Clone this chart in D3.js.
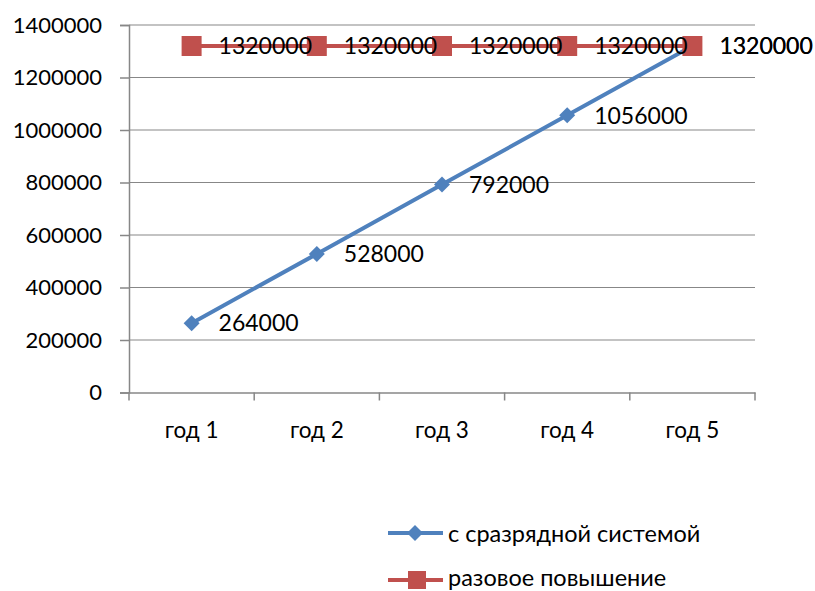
<!DOCTYPE html>
<html><head><meta charset="utf-8">
<script src="https://cdn.jsdelivr.net/npm/d3@7"></script>
<style>body{margin:0;background:#fff}svg{display:block}text{font-family:Lato,"Open Sans",sans-serif;fill:#000}</style>
</head><body><svg id="c" width="815" height="591"></svg>
<script>
const categories = ["год 1","год 2","год 3","год 4","год 5"];
const seriesNames = ["с сразрядной системой","разовое повышение"];
const blueValues = [264000,528000,792000,1056000,1320000];
const redValues = [1320000,1320000,1320000,1320000,1320000];
const yTicks = [0,200000,400000,600000,800000,1000000,1200000,1400000];

const svg = d3.select("#c");
const L=129, R=755, T=25, B=392.5;
const x = d3.scaleBand().domain(categories).range([L,R]);
const y = d3.scaleLinear().domain([0,1400000]).range([B,T]);
const fs = 22, grid="#878787";

svg.append("g").selectAll("line").data(yTicks.filter(d=>d>0)).join("line")
 .attr("x1",L).attr("x2",R).attr("y1",d=>y(d)).attr("y2",d=>y(d))
 .attr("stroke",grid).attr("stroke-width",1);

const ya = svg.append("g").attr("transform",`translate(${L},0)`)
 .call(d3.axisLeft(y).tickValues(yTicks).tickFormat(d3.format("d")).tickSize(9).tickPadding(18));
ya.select(".domain").attr("stroke",grid).attr("stroke-width",1.5);
ya.selectAll(".tick line").attr("stroke",grid).attr("stroke-width",1.5);
ya.selectAll("text").attr("font-size",fs).attr("font-family","Lato").attr("fill","#000");

const xa = svg.append("g").attr("transform",`translate(0,${B})`)
 .call(d3.axisBottom(x).tickSize(0).tickPadding(30));
xa.select(".domain").attr("stroke",grid).attr("stroke-width",1.5);
xa.selectAll("text").attr("font-size",fs+0.5).attr("font-family","Lato").attr("fill","#000");
svg.append("g").selectAll("line").data(d3.range(categories.length+1)).join("line")
 .attr("x1",i=>L+i*x.step()).attr("x2",i=>L+i*x.step()).attr("y1",B).attr("y2",B+8)
 .attr("stroke",grid).attr("stroke-width",1.5);

const cx = c=>x(c)+x.bandwidth()/2;
const line = d3.line();
const blue="#4F81BD", red="#C0504D";

function drawSeries(vals,color,marker){
 const pts = vals.map((v,i)=>[cx(categories[i]),y(v)]);
 svg.append("path").attr("d",line(pts)).attr("fill","none").attr("stroke",color).attr("stroke-width",4).attr("stroke-linejoin","round");
 pts.forEach(p=>marker(p[0],p[1]));
 return pts;
}
const diamond=(px,py,s=8)=>svg.append("path").attr("d",`M${px},${py-s}L${px+s},${py}L${px},${py+s}L${px-s},${py}Z`).attr("fill",blue);
const square=(px,py,s=10)=>svg.append("rect").attr("x",px-s).attr("y",py-s).attr("width",2*s).attr("height",2*s).attr("fill",red);

const bp = drawSeries(blueValues,blue,diamond);
const rp = drawSeries(redValues,red,square);

function labels(pts,vals){
 svg.append("g").selectAll("text").data(vals).join("text")
  .attr("x",(d,i)=>pts[i][0]+27).attr("y",(d,i)=>pts[i][1]).attr("dy","0.36em")
  .attr("font-size",23).text(d=>d);
}
labels(bp,blueValues);
labels(rp,redValues);

const lfs = 23.5;
svg.append("line").attr("x1",388).attr("x2",443).attr("y1",533).attr("y2",533).attr("stroke",blue).attr("stroke-width",4);
diamond(415,533,8);
svg.append("text").attr("x",448).attr("y",534).attr("dy","0.36em").attr("font-size",lfs).text(seriesNames[0]);
svg.append("line").attr("x1",388).attr("x2",443).attr("y1",580).attr("y2",580).attr("stroke",red).attr("stroke-width",4);
square(417,580,9);
svg.append("text").attr("x",448).attr("y",578).attr("dy","0.36em").attr("font-size",lfs).text(seriesNames[1]);
</script></body></html>
